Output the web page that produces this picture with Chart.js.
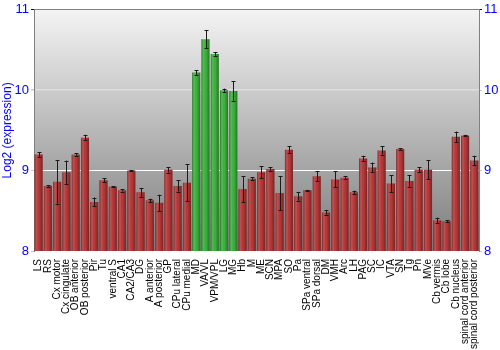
<!DOCTYPE html>
<html>
<head>
<meta charset="utf-8">
<script src="https://cdn.jsdelivr.net/npm/chart.js@4"></script>
<style>
  html, body { margin: 0; padding: 0; background: #fff; }
  #wrap { width: 500px; height: 350px; }
</style>
</head>
<body>
<div id="wrap"><canvas id="chart"></canvas></div>
<script>
const regions = [
  "LS", "RS", "Cx motor", "Cx cingulate", "OB anterior", "OB posterior", "Pir", "Tu",
  "ventral S", "CA1", "CA2/CA3", "DG", "A anterior", "A posterior", "GP", "CPu lateral",
  "CPu medial", "MD", "VA/VL", "VPM/VPL", "LG", "MG", "Hb", "M",
  "ME", "SCN", "MPA", "SO", "Pa", "SPa ventral", "SPa dorsal", "DM",
  "VMH", "Arc", "LH", "PAG", "SC", "IC", "VTA", "SN",
  "Tg", "Pn", "MVe", "Cb vermis", "Cb lobe", "Cb nucleus", "spinal cord anterior", "spinal cord posterior"
];
const values = [
  9.20, 8.81, 8.86, 8.98, 9.20, 9.41, 8.61, 8.88,
  8.80, 8.755, 9.00, 8.73, 8.63, 8.60, 9.01, 8.81,
  8.85, 10.22, 10.635, 10.45, 10.00, 9.99, 8.77, 8.90,
  8.98, 9.02, 8.72, 9.26, 8.68, 8.755, 8.93, 8.48,
  8.89, 8.91, 8.73, 9.15, 9.04, 9.25, 8.84, 9.27,
  8.87, 9.01, 9.01, 8.38, 8.37, 9.42, 9.435, 9.125
];
const errors = [
  0.03, 0.01, 0.27, 0.145, 0.015, 0.035, 0.055, 0.025,
  0.005, 0.015, 0.005, 0.055, 0.02, 0.10, 0.035, 0.07,
  0.23, 0.03, 0.11, 0.025, 0.02, 0.12, 0.16, 0.015,
  0.075, 0.02, 0.21, 0.045, 0.055, 0.005, 0.06, 0.03,
  0.10, 0.02, 0.02, 0.035, 0.06, 0.05, 0.105, 0.01,
  0.07, 0.03, 0.12, 0.035, 0.015, 0.065, 0.01, 0.06
];
const greenRegions = ["MD", "VA/VL", "VPM/VPL", "LG", "MG"];
const yTicks = [8, 9, 10, 11];

const tickBlue = "#0000ff";
const fontFamily = "Liberation Sans, Arial, sans-serif";

// gray gradient behind the bars
const backgroundPlugin = {
  id: "plotBackground",
  beforeDraw(chart) {
    const { ctx, chartArea: a } = chart;
    const g = ctx.createLinearGradient(0, a.top, 0, a.bottom);
    g.addColorStop(0, "#f4f4f4");
    g.addColorStop(1, "#7c7c7c");
    ctx.save();
    ctx.fillStyle = g;
    ctx.fillRect(a.left, a.top, a.right - a.left, a.bottom - a.top);
    ctx.restore();
  }
};

// cylinder shading on each bar, then the error bars
const barExtrasPlugin = {
  id: "barExtras",
  afterDatasetsDraw(chart) {
    const ctx = chart.ctx;
    const a = chart.chartArea;
    const yScale = chart.scales.y;
    const meta = chart.getDatasetMeta(0);
    ctx.save();
    // bars start at 0, far below the axis, so keep the shading inside the plot
    ctx.beginPath();
    ctx.rect(a.left, a.top, a.right - a.left, a.bottom - a.top);
    ctx.clip();
    meta.data.forEach((bar) => {
      const { x, y, width } = bar.getProps(["x", "y", "width"], true);
      const left = x - width / 2;
      const g = ctx.createLinearGradient(left, 0, left + width, 0);
      g.addColorStop(0, "rgba(0,0,0,0.38)");
      g.addColorStop(0.3, "rgba(255,255,255,0.10)");
      g.addColorStop(0.55, "rgba(0,0,0,0.0)");
      g.addColorStop(1, "rgba(0,0,0,0.35)");
      ctx.fillStyle = g;
      ctx.fillRect(left, y, width, a.bottom - y);
    });

    ctx.strokeStyle = "#1a1a1a";
    ctx.lineWidth = 1;
    meta.data.forEach((bar, i) => {
      const x = Math.round(bar.x) + 0.5;
      const top = yScale.getPixelForValue(values[i] + errors[i]);
      const bot = yScale.getPixelForValue(values[i] - errors[i]);
      ctx.beginPath();
      ctx.moveTo(x, top);
      ctx.lineTo(x, bot);
      ctx.moveTo(x - 2, Math.round(top) + 0.5);
      ctx.lineTo(x + 2, Math.round(top) + 0.5);
      ctx.moveTo(x - 2, Math.round(bot) + 0.5);
      ctx.lineTo(x + 2, Math.round(bot) + 0.5);
      ctx.stroke();
    });
    ctx.restore();
  }
};

function gridColor(c) {
  const v = c.tick && c.tick.value;
  if (v === 11) return "#808080";
  if (v === 10) return "#dedede";
  if (v === 9) return "#ffffff";
  return "rgba(0,0,0,0)";
}

function tickColor(c) {
  const v = c.tick && c.tick.value;
  return v === 11 ? "#111111" : "#c8c8d8";
}

const ctx = document.getElementById("chart").getContext("2d");
const chart = new Chart(ctx, {
  type: "bar",
  data: {
    labels: regions,
    datasets: [
      {
        label: "Log2 (expression)",
        data: values,
        backgroundColor: regions.map((r) => (greenRegions.includes(r) ? "#3cb33c" : "#b83838")),
        borderWidth: 0,
        barPercentage: 0.87,
        categoryPercentage: 1.0,
      },
    ],
  },
  plugins: [backgroundPlugin, barExtrasPlugin],
  options: {
    responsive: true,
    maintainAspectRatio: false,
    animation: false,
    devicePixelRatio: 1,
    layout: { padding: { top: 9, left: 0, right: 0, bottom: 0 } },
    plugins: {
      legend: { display: false },
      tooltip: { enabled: false },
    },
    scales: {
      x: {
        grid: { display: false },
        border: { display: false },
        ticks: {
          autoSkip: false,
          maxRotation: 90,
          minRotation: 90,
          color: "#000",
          padding: 0,
          font: { family: fontFamily, size: 10 },
        },
        afterFit(scale) { scale.height = 99; },
      },
      y: {
        position: "left",
        min: 8,
        max: 11,
        afterBuildTicks(scale) { scale.ticks = yTicks.map((v) => ({ value: v })); },
        grid: { color: gridColor, lineWidth: (c) => (c.tick && c.tick.value === 10 ? 1.5 : 1), tickLength: 3, tickColor: tickColor },
        border: { color: "#808080", width: 1 },
        ticks: {
          color: tickBlue,
          padding: 2,
          font: { family: fontFamily, size: 13 },
        },
        title: {
          display: true,
          text: "Log2 (expression)",
          color: tickBlue,
          padding: 0,
          font: { family: fontFamily, size: 12 },
        },
        afterFit(scale) { scale.width = 34; },
      },
      y2: {
        position: "right",
        min: 8,
        max: 11,
        afterBuildTicks(scale) { scale.ticks = yTicks.map((v) => ({ value: v })); },
        grid: { drawOnChartArea: false, tickLength: 3, tickColor: tickColor },
        border: { color: "#808080", width: 1 },
        ticks: {
          color: tickBlue,
          padding: 2,
          font: { family: fontFamily, size: 13 },
        },
        afterFit(scale) { scale.width = 21; },
      },
    },
  },
});
</script>
</body>
</html>
